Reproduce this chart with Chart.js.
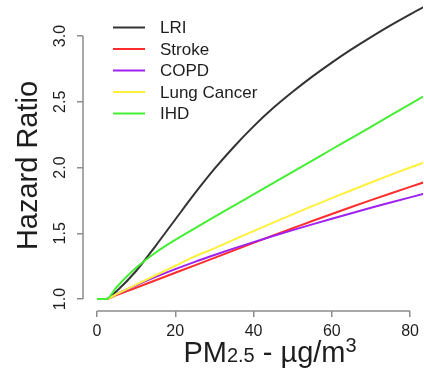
<!DOCTYPE html>
<html>
<head>
<meta charset="UTF-8">
<title>Hazard Ratio vs PM2.5</title>
<script src="https://cdn.jsdelivr.net/npm/chart.js"></script>
<style>
  html, body { margin: 0; padding: 0; background: #fff; }
</style>
</head>
<body>
<canvas id="hrChart" width="424" height="369"></canvas>
<script>
    const pm25 = [0, 2.4, 5, 10, 15, 20, 25, 30, 35, 40, 45, 50, 55, 60, 65, 70, 75, 80, 85];

    // hazard ratio per cause
    const lri    = [1, 1, 1.06, 1.213, 1.405, 1.605, 1.803, 1.989, 2.158, 2.313, 2.452, 2.576, 2.691, 2.798, 2.898, 2.992, 3.081, 3.165, 3.245];
    const stroke = [1, 1, 1.03, 1.086, 1.143, 1.2, 1.256, 1.313, 1.37, 1.427, 1.483, 1.538, 1.593, 1.647, 1.70, 1.752, 1.803, 1.853, 1.902];
    const copd   = [1, 1, 1.037, 1.105, 1.168, 1.227, 1.283, 1.335, 1.385, 1.433, 1.479, 1.524, 1.568, 1.611, 1.653, 1.694, 1.734, 1.773, 1.811];
    const lung   = [1, 1, 1.037, 1.109, 1.181, 1.253, 1.325, 1.385, 1.452, 1.517, 1.581, 1.644, 1.706, 1.767, 1.827, 1.886, 1.944, 2.0, 2.054];
    const ihd    = [1, 1, 1.09, 1.237, 1.354, 1.45, 1.538, 1.624, 1.71, 1.795, 1.881, 1.967, 2.053, 2.139, 2.224, 2.31, 2.396, 2.482, 2.568];

    const causes = ['LRI', 'Stroke', 'COPD', 'Lung Cancer', 'IHD'];
    const colors = ['#333333', '#ff2d2d', '#a020f0', '#fff03c', '#44ee33'];

    // axis ticks
    const xTicks = [0, 20, 40, 60, 80];
    const yTicks = [1.0, 1.5, 2.0, 2.5, 3.0];

    const FONT = '"Liberation Sans", Arial, sans-serif';
    const axisGrey = '#8c8c8c';
    const textCol = '#1e1e1e';

    function toPoints(vals) {
        return pm25.map((x, i) => ({ x: x, y: vals[i] }));
    }

    const series = [lri, stroke, copd, lung, ihd];
    const datasets = series.map((vals, i) => ({
        label: causes[i],
        data: toPoints(vals),
        borderColor: colors[i],
        borderWidth: 2,
        pointRadius: 0,
        cubicInterpolationMode: 'monotone',
        fill: false,
        order: series.length - i   // last one (IHD) on top, like R
    }));

    // base R look: short axis lines, rotated y labels, titles and legend
    const rStyle = {
        id: 'rStyle',
        afterDraw(chart) {
            const ctx = chart.ctx;
            const a = chart.chartArea;
            const x = chart.scales.x, y = chart.scales.y;
            ctx.save();

            ctx.strokeStyle = axisGrey;
            ctx.lineWidth = 1.5;
            ctx.beginPath();
            ctx.moveTo(x.getPixelForValue(xTicks[0]), a.bottom);
            ctx.lineTo(x.getPixelForValue(xTicks[xTicks.length - 1]), a.bottom);
            ctx.moveTo(a.left, y.getPixelForValue(yTicks[0]));
            ctx.lineTo(a.left, y.getPixelForValue(yTicks[yTicks.length - 1]));
            ctx.stroke();

            // y tick labels, turned like R's las=0
            ctx.fillStyle = textCol;
            ctx.font = '16px ' + FONT;
            ctx.textAlign = 'center';
            ctx.textBaseline = 'middle';
            yTicks.forEach(v => {
                ctx.save();
                ctx.translate(a.left - 22, y.getPixelForValue(v));
                ctx.rotate(-Math.PI / 2);
                ctx.fillText(v.toFixed(1), 0, 0);
                ctx.restore();
            });

            // y title
            ctx.save();
            ctx.translate(37, (a.top + a.bottom) / 2 + 10);
            ctx.rotate(-Math.PI / 2);
            ctx.font = '29px ' + FONT;
            ctx.textAlign = 'center';
            ctx.textBaseline = 'alphabetic';
            ctx.fillText('Hazard Ratio', 0, 0);
            ctx.restore();

            // x title with subscript and superscript
            const parts = [
                { t: 'PM', size: 29, dy: 0 },
                { t: '2.5', size: 20, dy: 0 },
                { t: ' - µg/m', size: 29, dy: 0 },
                { t: '3', size: 20, dy: -10 }
            ];
            ctx.textAlign = 'left';
            ctx.textBaseline = 'alphabetic';
            let total = 0;
            parts.forEach(p => { ctx.font = p.size + 'px ' + FONT; p.w = ctx.measureText(p.t).width; total += p.w; });
            let cx = (a.left + a.right) / 2 + 17 - total / 2;
            const baseY = chart.height - 7;
            parts.forEach(p => {
                ctx.font = p.size + 'px ' + FONT;
                ctx.fillText(p.t, cx, baseY + p.dy);
                cx += p.w;
            });

            // legend, top-left inside the plot, no box
            ctx.font = '17px ' + FONT;
            ctx.textBaseline = 'middle';
            ctx.lineWidth = 2;
            causes.forEach((c, i) => {
                const ly = a.top + 27.5 + i * 21.5;
                ctx.strokeStyle = colors[i];
                ctx.beginPath();
                ctx.moveTo(a.left + 30, ly);
                ctx.lineTo(a.left + 62, ly);
                ctx.stroke();
                ctx.fillStyle = textCol;
                ctx.fillText(c, a.left + 77, ly + 1);
            });

            ctx.restore();
        }
    };

    var ctx = document.getElementById('hrChart').getContext('2d');

    var hrChart = new Chart(ctx, {
        type: 'line',
        data: { datasets: datasets },
        options: {
            responsive: false,
            animation: false,
            devicePixelRatio: 1,
            layout: { padding: 0 },
            plugins: {
                legend: { display: false },
                tooltip: { enabled: false }
            },
            scales: {
                x: {
                    type: 'linear',
                    min: -3.57,
                    max: 83.3,
                    afterBuildTicks: s => { s.ticks = xTicks.map(v => ({ value: v })); },
                    afterFit: s => { s.height = 58; },
                    border: { display: false },
                    grid: { drawOnChartArea: false, drawTicks: true, tickLength: 6, color: axisGrey, lineWidth: 1.5 },
                    ticks: { font: { size: 16, family: FONT }, color: textCol, padding: 5, maxRotation: 0, autoSkip: false }
                },
                y: {
                    type: 'linear',
                    min: 0.909,
                    max: 3.274,
                    afterBuildTicks: s => { s.ticks = yTicks.map(v => ({ value: v })); },
                    afterFit: s => { s.width = 83; },
                    border: { display: false },
                    grid: { drawOnChartArea: false, drawTicks: true, tickLength: 6, color: axisGrey, lineWidth: 1.5 },
                    ticks: { display: false }
                }
            }
        },
        plugins: [rStyle]
    });
</script>
</body>
</html>
